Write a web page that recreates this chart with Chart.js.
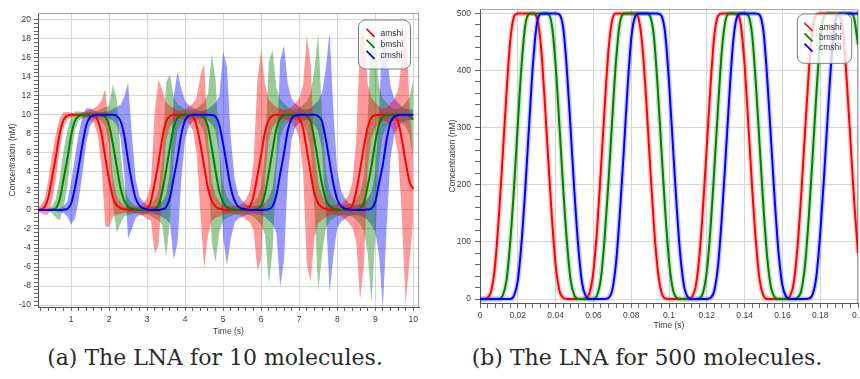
<!DOCTYPE html>
<html>
<head>
<meta charset="utf-8">
<script src="https://cdn.jsdelivr.net/npm/chart.js@4.4.0/dist/chart.umd.min.js"></script>
<style>
  html, body { margin: 0; padding: 0; background: #fff; }
  body { width: 860px; height: 379px; position: relative; overflow: hidden; }
  .panel { position: absolute; top: 0; }
  .panel canvas { display: block; }
  .cap { position: absolute; top: 345px; text-align: center; font: 22px 'DejaVu Serif', serif;
         color: #2a2a2a; line-height: 26px; white-space: nowrap; }
</style>
</head>
<body>
<div class="panel" style="left:0"><canvas id="chartA" width="430" height="340"></canvas></div>
<div class="panel" style="left:430px"><canvas id="chartB" width="460" height="340"></canvas></div>
<div class="cap" style="left:0;width:430px">(a) The LNA for 10 molecules.</div>
<div class="cap" style="left:430px;width:434px">(b) The LNA for 500 molecules.</div>
<script>
const names = ['amshi', 'bmshi', 'cmshi'];
const colors = ['#ff0000', '#008000', '#0000ff'];
const bandColors = ['rgba(255,0,0,0.4)', 'rgba(0,128,0,0.4)', 'rgba(0,0,255,0.4)'];
const haloColors = ['rgba(255,0,0,0.2)', 'rgba(0,128,0,0.2)', 'rgba(0,0,255,0.2)'];

// ---- (a) 10 molecules, sampled every 0.1 s ----
const timeA = Array.from({length: 100}, (_, i) => +((i + 1) * 0.1).toFixed(1));

const amshiA = [
  0, 0.07, 0.3, 1.3, 3.4, 5.6, 8.0, 9.45, 9.9, 10,
  10, 10, 10, 10, 10, 9.9, 9.45, 8.0, 5.5, 3.2,
  1.3, 0.5, 0.2, 0.07, 0.03, 0, 0, 0, 0.05, 0.15,
  0.9, 2.9, 5, 7.6, 9.3, 9.85, 10, 10, 10, 10,
  9.97, 9.8, 8.9, 6.9, 4.6, 2.3, 0.95, 0.35, 0.12, 0.05,
  0, 0, 0, 0, 0, 0.07, 0.35, 1.5, 3.6, 5.8,
  8.2, 9.5, 9.92, 10, 10, 10, 10, 10, 9.95, 9.65,
  8.6, 6.3, 3.9, 1.7, 0.7, 0.25, 0.1, 0.03, 0, 0,
  0, 0.03, 0.1, 0.5, 2.0, 4.2, 6.6, 8.7, 9.7, 9.95,
  10, 10, 10, 10, 9.85, 9.3, 7.4, 5, 3.0, 2.2
];
const amshiSdA = [
  0.15, 0.4, 0.8, 1.8, 2.4, 2.4, 1.6, 0.8, 0.4, 0.25,
  0.15, 0.15, 0.3, 0.37, 0.55, 0.8, 1.5, 3.5, 7.2, 5.0,
  2.0, 1.0, 0.63, 0.4, 0.3, 0.28, 0.36, 0.45, 0.72, 1.1,
  2.0, 7.5, 8.7, 5.0, 2.0, 1.1, 0.72, 0.45, 0.42, 0.58,
  0.9, 1.4, 2.9, 7.2, 10.8, 5.0, 2.1, 1.2, 0.8, 0.53,
  0.42, 0.38, 0.43, 0.5, 0.68, 1.07, 1.65, 3.6, 10.0, 11.0,
  5.1, 2.1, 1.25, 0.83, 0.6, 0.5, 0.58, 0.85, 1.3, 2.1,
  4.5, 12.0, 11.5, 4.5, 2.1, 1.3, 0.85, 0.6, 0.5, 0.54,
  0.64, 1.0, 1.45, 2.4, 5.4, 13.7, 12.4, 4.5, 2.1, 1.35,
  0.85, 0.64, 0.75, 1.2, 1.8, 3.3, 8.3, 15, 8.3, 3.3
];
const bmshiA = [
  0, 0, 0, 0, 0.05, 0.2, 1.1, 3.2, 5.3, 7.8,
  9.35, 9.87, 10, 10, 10, 10, 10, 9.97, 9.8, 8.9,
  6.9, 4.6, 2.3, 0.95, 0.35, 0.12, 0.05, 0, 0, 0,
  0.03, 0.1, 0.5, 2.0, 4.2, 6.6, 8.7, 9.7, 9.95, 10,
  10, 10, 10, 9.95, 9.7, 8.75, 6.5, 4.1, 1.9, 0.8,
  0.28, 0.1, 0.03, 0, 0, 0, 0, 0.02, 0.1, 0.45,
  1.7, 3.9, 6.3, 8.6, 9.65, 9.95, 10, 10, 10, 10,
  10, 9.85, 9.3, 7.4, 5, 2.7, 1.1, 0.4, 0.15, 0.05,
  0, 0, 0, 0, 0.04, 0.13, 0.75, 2.5, 4.6, 7.1,
  9.0, 9.8, 9.98, 10, 10, 10, 10, 10, 9.9, 9.5
];
const bmshiSdA = [
  0.1, 0.1, 0.12, 0.17, 0.4, 1.0, 2.2, 3.0, 3.0, 2.0,
  1.0, 0.5, 0.3, 0.24, 0.28, 0.33, 0.43, 0.67, 1.0, 2.1,
  6.3, 7.0, 3.7, 1.6, 0.87, 0.6, 0.4, 0.32, 0.36, 0.43,
  0.67, 0.96, 1.6, 3.6, 9.2, 7.7, 3.1, 1.4, 0.9, 0.58,
  0.43, 0.5, 0.66, 1.05, 1.65, 3.5, 9.9, 9.6, 4.2, 1.9,
  1.1, 0.77, 0.5, 0.42, 0.4, 0.47, 0.55, 0.8, 1.23, 2.0,
  4.3, 11.7, 10.5, 4.3, 2.0, 1.23, 0.8, 0.55, 0.54, 0.68,
  1.08, 1.6, 3.0, 7.4, 13.5, 7.4, 3.0, 1.6, 1.08, 0.68,
  0.54, 0.5, 0.6, 0.74, 1.1, 1.63, 3.0, 7.0, 14.4, 10.1,
  4.0, 1.9, 1.26, 0.8, 0.6, 0.62, 0.85, 1.3, 2.0, 4.2
];
const cmshiA = [
  0, 0, 0, 0, 0, 0, 0, 0.03, 0.12, 0.65,
  2.3, 4.5, 6.9, 8.9, 9.75, 9.96, 10, 10, 10, 10,
  10, 9.87, 9.35, 7.8, 5.2, 2.9, 1.2, 0.45, 0.17, 0.05,
  0, 0, 0, 0.07, 0.3, 1.3, 3.4, 5.5, 8.0, 9.45,
  9.9, 10, 10, 10, 10, 10, 9.97, 9.8, 8.9, 6.9,
  4.6, 2.3, 0.95, 0.35, 0.12, 0.05, 0, 0, 0, 0,
  0.02, 0.08, 0.4, 1.6, 3.8, 6.0, 8.4, 9.6, 9.93, 10,
  10, 10, 10, 10, 9.85, 9.3, 7.4, 5, 2.7, 1.1,
  0.4, 0.15, 0.05, 0, 0, 0, 0, 0.04, 0.15, 0.85,
  2.8, 4.8, 7.4, 9.2, 9.82, 9.97, 10, 10, 10, 10
];
const cmshiSdA = [
  0.1, 0.1, 0.1, 0.1, 0.1, 0.14, 0.18, 0.35, 0.8, 2.2,
  3.2, 3.5, 3.0, 1.8, 0.9, 0.5, 0.3, 0.29, 0.33, 0.41,
  0.62, 0.94, 1.7, 4.1, 8.2, 4.9, 2.0, 1.0, 0.7, 0.45,
  0.35, 0.42, 0.54, 0.84, 1.3, 2.7, 8.6, 9.0, 4.7, 2.0,
  1.1, 0.74, 0.5, 0.4, 0.47, 0.62, 0.96, 1.47, 3.05, 9.8,
  10.4, 5.3, 2.3, 1.25, 0.85, 0.57, 0.45, 0.4, 0.47, 0.57,
  0.76, 1.2, 1.9, 4.0, 11.9, 11.3, 4.8, 2.1, 1.26, 0.88,
  0.57, 0.55, 0.69, 1.1, 1.64, 3.0, 7.5, 13.7, 7.5, 3.0,
  1.64, 1.1, 0.69, 0.55, 0.53, 0.6, 0.76, 1.13, 1.74, 3.2,
  7.6, 15.1, 9.1, 3.8, 1.9, 1.3, 0.83, 0.6, 0.55, 0.55
];

// ---- (b) 500 molecules, sampled every 2 ms ----
const timeB = Array.from({length: 101}, (_, i) => +(i * 0.002).toFixed(3));

const amshiB = [
  0, 0, 2, 15, 60, 145, 250, 360, 452, 494,
  500, 500, 500, 500, 500, 494, 452, 360, 250, 145,
  60, 15, 2, 0, 0, 0, 0, 0, 1, 11,
  48, 125, 228, 338, 436, 489, 500, 500, 500, 500,
  500, 500, 490, 440, 345, 235, 130, 52, 12, 1,
  0, 0, 0, 0, 0, 0, 3, 20, 72, 160,
  267, 375, 462, 496, 500, 500, 500, 500, 499, 480,
  410, 305, 195, 100, 32, 6, 0, 0, 0, 0,
  0, 0, 5, 28, 92, 185, 294, 400, 475, 498,
  500, 500, 500, 500, 500, 497, 468, 385, 278, 170,
  80
];
const bmshiB = [
  0, 0, 0, 0, 0, 0, 6, 32, 100, 195,
  305, 410, 480, 499, 500, 500, 500, 500, 499, 480,
  410, 305, 195, 100, 32, 6, 0, 0, 0, 0,
  0, 7, 37, 109, 206, 316, 418, 483, 499, 500,
  500, 500, 500, 500, 500, 495, 460, 371, 261, 154,
  67, 18, 2, 0, 0, 0, 0, 0, 1, 11,
  48, 125, 228, 338, 436, 489, 500, 500, 500, 500,
  500, 496, 462, 375, 267, 160, 72, 20, 3, 0,
  0, 0, 0, 0, 2, 15, 60, 145, 250, 360,
  452, 494, 500, 500, 500, 500, 500, 500, 500, 491,
  445
];
const cmshiB = [
  0, 0, 0, 0, 0, 0, 0, 0, 0, 6,
  32, 100, 195, 305, 410, 480, 499, 500, 500, 500,
  500, 498, 475, 400, 294, 185, 92, 28, 5, 0,
  0, 0, 0, 0, 2, 16, 64, 150, 255, 365,
  455, 494, 500, 500, 500, 500, 500, 500, 496, 464,
  380, 272, 165, 76, 22, 3, 0, 0, 0, 0,
  0, 2, 15, 60, 145, 250, 360, 452, 494, 500,
  500, 500, 500, 500, 497, 468, 385, 278, 170, 80,
  24, 4, 0, 0, 0, 0, 0, 1, 8, 40,
  114, 212, 322, 422, 485, 500, 500, 500, 500, 500,
  500
];

// tick positions (majors get a label and a grid line)
const range = (from, to, step) => {
  const out = [];
  for (let v = from; v <= to + step / 2; v += step) out.push(+v.toFixed(4));
  return out;
};
const xTicksA = range(0.2, 10, 0.2);
const yTicksA = range(-10, 20, 0.4);
const xTicksB = range(0, 0.2, 0.004);
const yTicksB = range(0, 500, 20);

const onStep = (v, step) => Math.abs(v / step - Math.round(v / step)) < 1e-6;
const xy = (ts, ys) => ts.map((t, i) => ({x: t, y: ys[i]}));

const tickFont = {family: '"Liberation Sans", Arial, sans-serif', size: 8.5};

function axis(opts) {
  return {
    type: 'linear',
    min: opts.min,
    max: opts.max,
    afterBuildTicks: s => { s.ticks = opts.ticks.map(v => ({value: v})); },
    afterFit: s => { if (opts.width) s.width = opts.width; if (opts.height) s.height = opts.height; },
    border: {color: '#555', width: 1},
    grid: {
      color: c => (c.tick && onStep(c.tick.value, opts.major)) ? '#d6d6d6' : 'rgba(0,0,0,0)',
      tickColor: '#666',
      tickLength: opts.tickLength,
      drawTicks: true
    },
    ticks: {
      autoSkip: false,
      maxRotation: 0,
      minRotation: 0,
      padding: opts.padding,
      color: '#3c3c3c',
      font: tickFont,
      callback: v => onStep(v, opts.major) ? String(+v.toFixed(3)) : ''
    },
    title: {
      display: true,
      text: opts.title,
      color: '#3c3c3c',
      font: tickFont,
      padding: opts.titlePad
    }
  };
}

// light frame on the top and right sides of the plot
const frame = {
  id: 'frame',
  beforeDatasetsDraw(chart) {
    const {ctx, chartArea: a} = chart;
    ctx.save();
    ctx.strokeStyle = '#a0a0a0';
    ctx.lineWidth = 1;
    ctx.beginPath();
    ctx.moveTo(a.left, a.top + 0.5);
    ctx.lineTo(a.right - 0.5, a.top + 0.5);
    ctx.lineTo(a.right - 0.5, a.bottom);
    ctx.stroke();
    ctx.restore();
  }
};

// rounded legend box with slanted line markers
const legendBox = {
  id: 'legendBox',
  afterDatasetsDraw(chart, args, o) {
    const ctx = chart.ctx;
    ctx.save();
    ctx.beginPath();
    ctx.roundRect(o.x, o.y, o.w, o.h, 7);
    ctx.fillStyle = 'rgba(255,255,255,0.8)';
    ctx.fill();
    ctx.strokeStyle = '#7c7c7c';
    ctx.lineWidth = 1;
    ctx.stroke();
    ctx.font = '8.5px "Liberation Sans", Arial, sans-serif';
    ctx.textBaseline = 'middle';
    names.forEach((n, i) => {
      const cy = o.rowY + i * o.rowH;
      ctx.strokeStyle = colors[i];
      ctx.lineWidth = 1.7;
      ctx.beginPath();
      ctx.moveTo(o.lineX, cy - 4.5);
      ctx.lineTo(o.lineX + 8, cy + 3.5);
      ctx.stroke();
      ctx.fillStyle = '#333';
      ctx.fillText(n, o.textX, cy);
    });
    ctx.restore();
  }
};

// ---- chart (a): mean lines on top, +/- spread bands underneath ----
const meansA = [amshiA, bmshiA, cmshiA];
const sdsA = [amshiSdA, bmshiSdA, cmshiSdA];
const lineOrder = [2, 1, 0]; // cmshi painted last

const setsA = lineOrder.map(k => ({
  label: names[k],
  data: xy(timeA, meansA[k]),
  borderColor: colors[k],
  borderWidth: 2,
  pointRadius: 0,
  cubicInterpolationMode: 'monotone',
  fill: false
}));
[0, 1, 2].forEach(k => {
  const hi = meansA[k].map((m, i) => m + sdsA[k][i]);
  const lo = meansA[k].map((m, i) => m - sdsA[k][i]);
  setsA.push({
    data: xy(timeA, hi), borderColor: 'rgba(0,0,0,0)', pointRadius: 0, fill: false
  });
  setsA.push({
    data: xy(timeA, lo), borderColor: 'rgba(0,0,0,0)', pointRadius: 0,
    fill: '-1', backgroundColor: bandColors[k]
  });
});

new Chart(document.getElementById('chartA'), {
  type: 'line',
  data: {datasets: setsA},
  plugins: [frame, legendBox],
  options: {
    responsive: false,
    animation: false,
    events: [],
    layout: {padding: {left: 0, top: 13, right: 11, bottom: 0}},
    plugins: {
      legend: {display: false},
      tooltip: {enabled: false},
      filler: {drawTime: 'beforeDatasetsDraw'},
      legendBox: {x: 358.5, y: 20, w: 52, h: 49, rowY: 33.3, rowH: 11, lineX: 366.5, textX: 380.5}
    },
    scales: {
      x: axis({min: 0.13, max: 10.15, ticks: xTicksA, major: 1, height: 33, tickLength: 4,
               padding: 4, title: 'Time (s)', titlePad: {top: 0, bottom: 3}}),
      y: axis({min: -10.2, max: 20.7, ticks: yTicksA, major: 2, width: 38, tickLength: 4,
               padding: 3, title: 'Concentration (nM)', titlePad: {top: 8, bottom: 0}})
    }
  }
});

// ---- chart (b): thin spread shown as a soft halo round each line ----
const meansB = [amshiB, bmshiB, cmshiB];
const setsB = lineOrder.map(k => ({
  data: xy(timeB, meansB[k]),
  borderColor: colors[k],
  borderWidth: 2,
  pointRadius: 0,
  cubicInterpolationMode: 'monotone',
  fill: false
}));
lineOrder.forEach(k => setsB.push({
  data: xy(timeB, meansB[k]),
  borderColor: haloColors[k],
  borderWidth: 5,
  pointRadius: 0,
  cubicInterpolationMode: 'monotone',
  fill: false
}));

new Chart(document.getElementById('chartB'), {
  type: 'line',
  data: {datasets: setsB},
  plugins: [frame, legendBox],
  options: {
    responsive: false,
    animation: false,
    events: [],
    layout: {padding: {left: 0, top: 7, right: 32, bottom: 0}},
    plugins: {
      legend: {display: false},
      tooltip: {enabled: false},
      legendBox: {x: 367.3, y: 14, w: 54.4, h: 49.3, rowY: 27.5, rowH: 10.3, lineX: 374.5, textX: 389}
    },
    scales: {
      x: axis({min: 0, max: 0.2, ticks: xTicksB, major: 0.02, height: 37, tickLength: 5,
               padding: 3, title: 'Time (s)', titlePad: {top: 0, bottom: 9}}),
      y: axis({min: -7, max: 507.5, ticks: yTicksB, major: 100, width: 50, tickLength: 5,
               padding: 4, title: 'Concentration (nM)', titlePad: {top: 17.5, bottom: 0}})
    }
  }
});
</script>
</body>
</html>
